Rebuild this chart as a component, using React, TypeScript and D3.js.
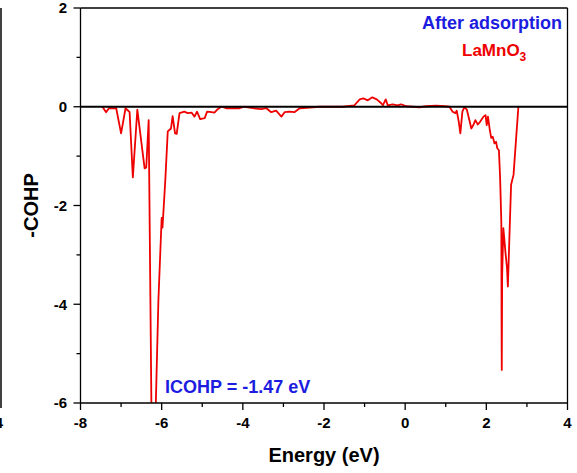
import React from "react";
import * as d3 from "d3";

const energy = [
  -7.48, -7.45, -7.37, -7.30, -7.12, -7.00, -6.89, -6.79, -6.71, -6.60, -6.42, -6.38, -6.32,
  -6.25, -6.21, -6.15, -6.08, -6.00, -5.98, -5.91, -5.85, -5.77, -5.73, -5.67, -5.63, -5.56,
  -5.44, -5.36, -5.26, -5.19, -5.13, -5.05, -4.94, -4.88, -4.77, -4.70, -4.62, -4.53, -4.41,
  -4.08, -3.96, -3.75, -3.55, -3.42, -3.30, -3.18, -3.05, -2.97, -2.85, -2.73, -2.60, -2.11,
  -1.54, -1.25, -1.12, -1.03, -0.92, -0.81, -0.70, -0.59, -0.55, -0.48, -0.43, -0.31, -0.19,
  -0.10, 0.03, 0.35, 0.52, 0.76, 0.97, 1.09, 1.17, 1.24, 1.27, 1.32, 1.36, 1.41, 1.46, 1.52,
  1.59, 1.63, 1.68, 1.73, 1.79, 1.85, 1.93, 1.98, 2.01, 2.04, 2.08, 2.12, 2.16, 2.20, 2.24,
  2.27, 2.31, 2.34, 2.37, 2.375, 2.38, 2.39, 2.42, 2.47, 2.51, 2.53, 2.55, 2.57, 2.61, 2.67,
  2.74, 2.79,
];
const cohp = [
  0, -0.01, -0.11, -0.03, -0.03, -0.54, -0.03, -0.11, -1.43, -0.06, -1.25, -1.23, -0.27,
  -6.3, -6.4, -6.2, -3.91, -2.25, -2.45, -1.48, -0.5, -0.44, -0.19, -0.54, -0.55, -0.13,
  -0.10, -0.13, -0.12, -0.20, -0.10, -0.25, -0.23, -0.10, -0.11, -0.12, -0.05, 0.0, -0.03,
  -0.03, 0, -0.03, -0.05, -0.03, -0.11, -0.08, -0.20, -0.11, -0.10, -0.11, -0.03, 0,
  0, 0.03, 0.15, 0.17, 0.13, 0.19, 0.15, 0.07, 0.03, 0.15, 0.03, 0.05, 0.03,
  0.05, 0.01, -0.01, 0.01, 0.02, 0.01, 0, -0.10, -0.13, -0.08, -0.30, -0.54, -0.10, -0.01, -0.06,
  -0.30, -0.44, -0.37, -0.27, -0.36, -0.30, -0.20, -0.17, -0.37, -0.20, -0.44, -0.63, -0.61, -0.74, -0.71,
  -0.84, -0.88, -1.45, -2.36, -4.35, -5.33, -3.41, -2.46, -2.94, -3.27, -3.64, -3.14, -2.60, -1.58, -1.38,
  -0.57, 0,
];

const xMajor = [-8, -6, -4, -2, 0, 2, 4];
const xMinor = [-7, -5, -3, -1, 1, 3];
const yMajor = [2, 0, -2, -4, -6];
const yMinor = [1, -1, -3, -5];

const W = 577, H = 473;
const L = 80.5, R = 567.5, T = 8, B = 403;
const FONT = "'Liberation Sans', Arial, sans-serif";

export default function App() {
  const x = d3.scaleLinear().domain([-8, 4]).range([L, R]);
  const y = d3.scaleLinear().domain([-6, 2]).range([B, T]);
  const pts = energy.map((e, i) => [e, cohp[i]] as [number, number]);
  const line = d3.line<[number, number]>().x(d => x(d[0])).y(d => y(d[1]));
  return (
    <svg width={W} height={H} style={{ position: "absolute", left: 0, top: 0 }} fontFamily={FONT}>
      <defs>
        <clipPath id="plot"><rect x={L} y={T} width={R - L} height={B - T} /></clipPath>
      </defs>
      {/* partial neighbouring panel */}
      <line x1={1} x2={1} y1={T} y2={B + 5} stroke="#000" strokeWidth={1.5} />
      <text x={-1} y={428} textAnchor="middle" fontSize={15} fontWeight="bold">4</text>

      <path d={line(pts) || ""} fill="none" stroke="#ee0000" strokeWidth={1.8} clipPath="url(#plot)" strokeLinejoin="round" />
      <line x1={L} x2={R} y1={y(0)} y2={y(0)} stroke="#000" strokeWidth={2} />

      {/* frame */}
      <line x1={L} x2={R} y1={T} y2={T} stroke="#000" strokeWidth={1.3} />
      <line x1={R} x2={R} y1={T} y2={B} stroke="#000" strokeWidth={1.3} />
      <line x1={L} x2={L} y1={T} y2={B} stroke="#000" strokeWidth={1.3} />
      <line x1={L} x2={R} y1={B} y2={B} stroke="#000" strokeWidth={1.3} />

      {xMajor.map(v => (
        <g key={"xm" + v}>
          <line x1={x(v)} x2={x(v)} y1={B} y2={B + 7} stroke="#000" strokeWidth={1.3} />
          <text x={x(v)} y={428} textAnchor="middle" fontSize={15} fontWeight="bold">{v}</text>
        </g>
      ))}
      {xMinor.map(v => (
        <line key={"xn" + v} x1={x(v)} x2={x(v)} y1={B} y2={B + 4} stroke="#000" strokeWidth={1.3} />
      ))}
      {yMajor.map(v => (
        <g key={"ym" + v}>
          <line x1={L - 7} x2={L} y1={y(v)} y2={y(v)} stroke="#000" strokeWidth={1.3} />
          <text x={67} y={y(v) + 5.3} textAnchor="end" fontSize={15} fontWeight="bold">{v}</text>
        </g>
      ))}
      {yMinor.map(v => (
        <line key={"yn" + v} x1={L - 4} x2={L} y1={y(v)} y2={y(v)} stroke="#000" strokeWidth={1.3} />
      ))}

      <text x={(L + R) / 2} y={462} textAnchor="middle" fontSize={20} fontWeight="bold">Energy (eV)</text>
      <text transform={`translate(38,${(T + B) / 2}) rotate(-90)`} textAnchor="middle" fontSize={20} fontWeight="bold">-COHP</text>

      <text x={562} y={29} textAnchor="end" fontSize={18} fontWeight="bold" fill="#1c1ce0">After adsorption</text>
      <text x={462} y={56} fontSize={17} fontWeight="bold" fill="#ee0000">
        LaMnO<tspan fontSize={12} dy={5}>3</tspan>
      </text>
      <text x={165} y={393} fontSize={18} fontWeight="bold" fill="#1c1ce0">ICOHP = -1.47 eV</text>
    </svg>
  );
}
